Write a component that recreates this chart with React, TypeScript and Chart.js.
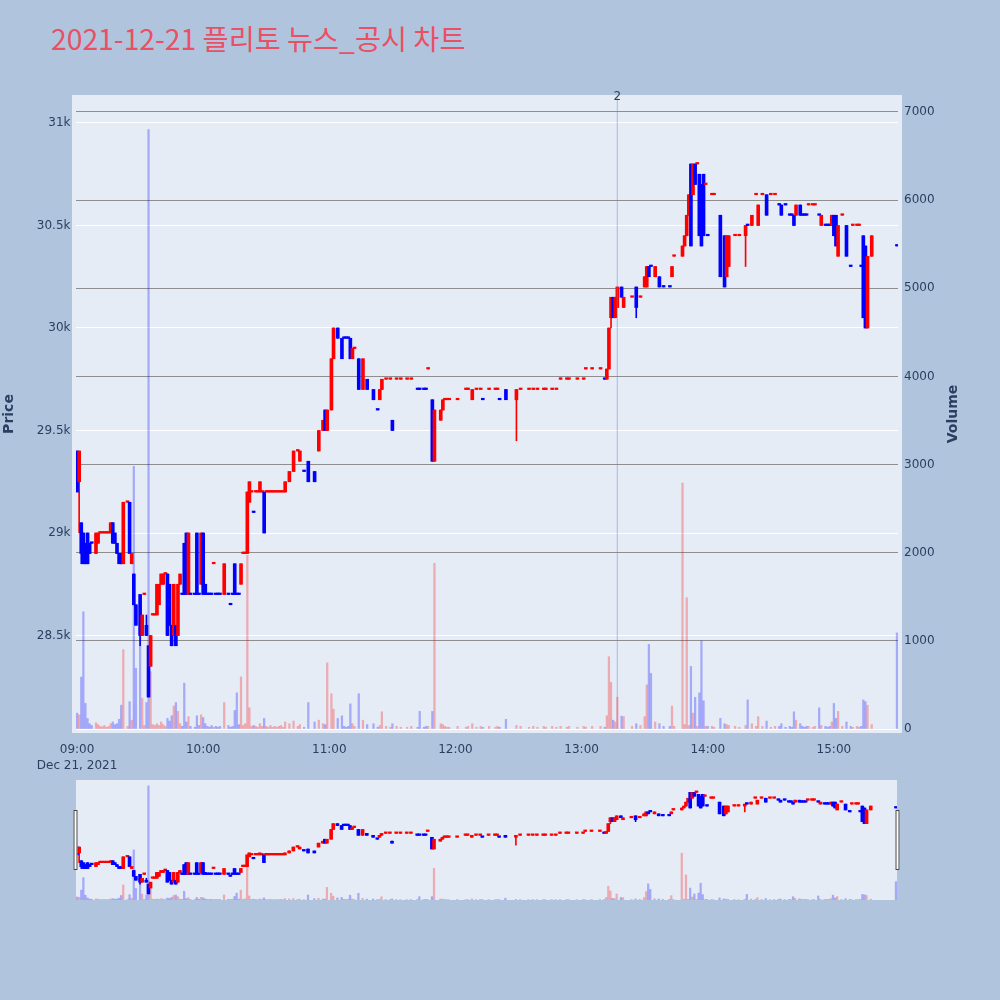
import React, { useEffect, useRef } from "react";
import { Chart, registerables } from "chart.js";

Chart.register(...registerables);

// ---------------- data ----------------
const TITLE = "2021-12-21 플리토 뉴스_공시 차트";
const DATE_LABEL = "Dec 21, 2021";
const PRICE_TITLE = "Price";
const VOLUME_TITLE = "Volume";

// news markers: minutes after 09:00
const newsMinutes = [257];
const newsLabels = ["2"];

const timeTicks = [0, 60, 120, 180, 240, 300, 360];
const priceTicks = [28500, 29000, 29500, 30000, 30500, 31000];
const volumeTicks = [0, 1000, 2000, 3000, 4000, 5000, 6000, 7000];

// rows: [minute after 09:00, open, high, low, close, volume, direction (1 up / -1 down)]
const session0900: number[][] = [
  [0, 29400, 29400, 29200, 29200, 180, -1],
  [1, 29250, 29400, 29000, 29400, 160, 1],
  [2, 29050, 29050, 28850, 28900, 590, -1],
  [3, 29000, 29000, 28850, 28850, 1330, -1],
  [4, 28950, 28950, 28850, 28850, 290, -1],
  [5, 29000, 29000, 28850, 28850, 120, -1],
  [6, 28950, 28950, 28900, 28900, 60, -1],
  [7, 28950, 28950, 28950, 28950, 40, -1],
  [9, 28900, 29000, 28900, 29000, 70, 1],
  [10, 28950, 29000, 28950, 29000, 50, 1],
  [11, 29000, 29000, 29000, 29000, 30, 1],
  [12, 29000, 29000, 29000, 29000, 25, 1],
  [13, 29000, 29000, 29000, 29000, 40, 1],
  [14, 29000, 29000, 29000, 29000, 20, 1],
  [15, 29000, 29000, 29000, 29000, 30, 1],
  [16, 29000, 29050, 29000, 29050, 60, 1],
  [17, 29050, 29050, 28950, 28950, 80, -1],
  [18, 29000, 29000, 28950, 28950, 50, -1],
  [19, 28950, 28950, 28900, 28900, 60, -1],
  [20, 28900, 28900, 28850, 28850, 110, -1],
  [21, 28900, 28900, 28850, 28850, 270, -1],
  [22, 28850, 29150, 28850, 29150, 900, 1],
  [24, 29150, 29150, 29150, 29150, 30, 1],
  [25, 29150, 29150, 28900, 28900, 310, -1],
  [26, 28850, 28900, 28850, 28900, 100, 1],
  [27, 28800, 28800, 28650, 28650, 2980, -1],
  [28, 28650, 28650, 28550, 28550, 690, -1],
  [30, 28700, 28700, 28450, 28500, 1050, -1],
  [31, 28500, 28600, 28500, 28600, 350, 1],
  [32, 28700, 28700, 28700, 28700, 40, 1],
  [33, 28550, 28600, 28500, 28500, 300, -1],
  [34, 28450, 28450, 28200, 28200, 6800, -1],
  [35, 28350, 28500, 28350, 28500, 650, 1],
  [36, 28600, 28600, 28600, 28600, 50, 1],
  [37, 28600, 28600, 28600, 28600, 40, 1],
  [38, 28600, 28750, 28600, 28750, 60, 1],
  [39, 28650, 28750, 28650, 28750, 40, 1],
  [40, 28750, 28800, 28750, 28800, 80, 1],
  [41, 28750, 28800, 28750, 28800, 50, 1],
  [42, 28800, 28800, 28800, 28800, 30, 1],
  [43, 28800, 28800, 28500, 28500, 120, -1],
  [44, 28750, 28750, 28550, 28550, 90, -1],
  [45, 28550, 28550, 28450, 28450, 150, -1],
  [46, 28500, 28750, 28500, 28750, 260, 1],
  [47, 28550, 28550, 28450, 28450, 300, -1],
  [48, 28500, 28750, 28500, 28750, 200, 1],
  [49, 28750, 28800, 28750, 28800, 60, 1],
  [50, 28700, 28700, 28700, 28700, 30, -1],
  [51, 28950, 28950, 28700, 28700, 520, -1],
  [52, 29000, 29000, 28700, 28700, 80, -1],
  [53, 28700, 29000, 28700, 29000, 140, 1],
  [54, 28700, 28700, 28700, 28700, 30, -1],
  [56, 28700, 28700, 28700, 28700, 20, -1],
  [57, 29000, 29000, 28700, 28700, 150, -1],
  [58, 28700, 28700, 28700, 28700, 40, -1],
  [59, 28750, 29000, 28750, 29000, 160, 1],
];

const session1000: number[][] = [
  [60, 29000, 29000, 28700, 28700, 130, -1],
  [61, 28750, 28750, 28700, 28700, 60, -1],
  [62, 28700, 28700, 28700, 28700, 30, -1],
  [63, 28700, 28700, 28700, 28700, 20, -1],
  [64, 28700, 28700, 28700, 28700, 40, -1],
  [65, 28850, 28850, 28850, 28850, 20, 1],
  [66, 28700, 28700, 28700, 28700, 30, -1],
  [67, 28700, 28700, 28700, 28700, 20, -1],
  [68, 28700, 28700, 28700, 28700, 30, -1],
  [70, 28700, 28850, 28700, 28850, 300, 1],
  [72, 28700, 28700, 28700, 28700, 40, -1],
  [73, 28650, 28650, 28650, 28650, 20, -1],
  [74, 28700, 28700, 28700, 28700, 30, -1],
  [75, 28850, 28850, 28700, 28700, 210, -1],
  [76, 28700, 28700, 28700, 28700, 410, -1],
  [77, 28700, 28700, 28700, 28700, 50, -1],
  [78, 28750, 28850, 28750, 28850, 590, 1],
  [79, 28900, 28900, 28900, 28900, 40, 1],
  [80, 28900, 28900, 28900, 28900, 60, 1],
  [81, 28900, 29200, 28900, 29200, 1970, 1],
  [82, 29150, 29250, 29150, 29250, 240, 1],
  [83, 29200, 29200, 29200, 29200, 30, 1],
  [84, 29100, 29100, 29100, 29100, 40, -1],
  [85, 29200, 29200, 29200, 29200, 30, 1],
  [86, 29200, 29200, 29200, 29200, 20, 1],
  [87, 29200, 29250, 29200, 29250, 60, 1],
  [88, 29200, 29200, 29200, 29200, 30, 1],
  [89, 29200, 29200, 29000, 29000, 120, -1],
  [90, 29200, 29200, 29200, 29200, 30, 1],
  [91, 29200, 29200, 29200, 29200, 20, 1],
  [92, 29200, 29200, 29200, 29200, 40, 1],
  [93, 29200, 29200, 29200, 29200, 20, 1],
  [94, 29200, 29200, 29200, 29200, 30, 1],
  [95, 29200, 29200, 29200, 29200, 20, 1],
  [96, 29200, 29200, 29200, 29200, 30, 1],
  [97, 29200, 29200, 29200, 29200, 40, 1],
  [98, 29200, 29200, 29200, 29200, 20, 1],
  [99, 29200, 29250, 29200, 29250, 80, 1],
  [101, 29250, 29300, 29250, 29300, 60, 1],
  [103, 29300, 29400, 29300, 29400, 90, 1],
  [105, 29400, 29400, 29400, 29400, 30, 1],
  [106, 29350, 29400, 29350, 29400, 50, 1],
  [108, 29300, 29300, 29300, 29300, 20, -1],
  [110, 29350, 29350, 29250, 29250, 300, -1],
  [113, 29300, 29300, 29250, 29250, 80, -1],
  [115, 29400, 29500, 29400, 29500, 100, 1],
  [117, 29500, 29550, 29500, 29550, 60, 1],
  [118, 29600, 29600, 29500, 29500, 50, -1],
  [119, 29500, 29600, 29500, 29600, 750, 1],
];

const session1100: number[][] = [
  [121, 29600, 29850, 29600, 29850, 400, 1],
  [122, 29850, 30000, 29850, 30000, 225, 1],
  [124, 30000, 30000, 29950, 29950, 120, -1],
  [126, 29950, 29950, 29850, 29850, 150, -1],
  [127, 29950, 29950, 29950, 29950, 30, -1],
  [128, 29950, 29950, 29950, 29950, 20, -1],
  [129, 29950, 29950, 29950, 29950, 30, -1],
  [130, 29950, 29950, 29850, 29850, 285, -1],
  [131, 29850, 29900, 29850, 29900, 60, 1],
  [132, 29900, 29900, 29900, 29900, 30, 1],
  [134, 29850, 29850, 29700, 29700, 400, -1],
  [136, 29700, 29850, 29700, 29850, 100, 1],
  [138, 29750, 29750, 29700, 29700, 50, -1],
  [141, 29700, 29700, 29650, 29650, 60, -1],
  [143, 29600, 29600, 29600, 29600, 20, -1],
  [144, 29650, 29700, 29650, 29700, 40, 1],
  [145, 29700, 29750, 29700, 29750, 195, 1],
  [147, 29750, 29750, 29750, 29750, 30, 1],
  [149, 29750, 29750, 29750, 29750, 20, 1],
  [150, 29550, 29550, 29500, 29500, 60, -1],
  [152, 29750, 29750, 29750, 29750, 30, 1],
  [154, 29750, 29750, 29750, 29750, 20, 1],
  [157, 29750, 29750, 29750, 29750, 20, 1],
  [159, 29750, 29750, 29750, 29750, 30, 1],
  [162, 29700, 29700, 29700, 29700, 20, -1],
  [163, 29700, 29700, 29700, 29700, 200, -1],
  [165, 29700, 29700, 29700, 29700, 20, -1],
  [166, 29700, 29700, 29700, 29700, 30, -1],
  [167, 29800, 29800, 29800, 29800, 30, 1],
  [169, 29650, 29650, 29350, 29350, 200, -1],
  [170, 29350, 29600, 29350, 29600, 1880, 1],
  [173, 29550, 29600, 29550, 29600, 60, 1],
  [174, 29600, 29650, 29600, 29650, 50, 1],
  [175, 29650, 29650, 29650, 29650, 30, 1],
  [176, 29650, 29650, 29650, 29650, 20, 1],
  [177, 29650, 29650, 29650, 29650, 20, 1],
];

const session1200: number[][] = [
  [181, 29650, 29650, 29650, 29650, 30, 1],
  [185, 29700, 29700, 29700, 29700, 20, 1],
  [186, 29700, 29700, 29700, 29700, 30, 1],
  [188, 29650, 29700, 29650, 29700, 60, 1],
  [190, 29700, 29700, 29700, 29700, 20, 1],
  [192, 29700, 29700, 29700, 29700, 30, 1],
  [193, 29650, 29650, 29650, 29650, 20, -1],
  [196, 29700, 29700, 29700, 29700, 30, 1],
  [199, 29700, 29700, 29700, 29700, 20, 1],
  [200, 29700, 29700, 29700, 29700, 30, 1],
  [201, 29650, 29650, 29650, 29650, 20, -1],
  [204, 29700, 29700, 29650, 29650, 110, -1],
  [209, 29650, 29700, 29450, 29700, 40, 1],
  [211, 29700, 29700, 29700, 29700, 30, 1],
  [215, 29700, 29700, 29700, 29700, 20, 1],
  [217, 29700, 29700, 29700, 29700, 30, 1],
  [219, 29700, 29700, 29700, 29700, 20, 1],
  [222, 29700, 29700, 29700, 29700, 30, 1],
  [223, 29700, 29700, 29700, 29700, 20, 1],
  [226, 29700, 29700, 29700, 29700, 30, 1],
  [228, 29700, 29700, 29700, 29700, 20, 1],
  [230, 29750, 29750, 29750, 29750, 30, 1],
  [233, 29750, 29750, 29750, 29750, 20, 1],
  [234, 29750, 29750, 29750, 29750, 30, 1],
  [238, 29750, 29750, 29750, 29750, 20, 1],
];

const session1300: number[][] = [
  [241, 29750, 29750, 29750, 29750, 30, 1],
  [242, 29800, 29800, 29800, 29800, 20, 1],
  [245, 29800, 29800, 29800, 29800, 30, 1],
  [249, 29800, 29800, 29800, 29800, 30, 1],
  [251, 29750, 29750, 29750, 29750, 20, -1],
  [252, 29750, 29800, 29750, 29800, 150, 1],
  [253, 29800, 30000, 29800, 30000, 820, 1],
  [254, 30050, 30150, 30000, 30150, 530, 1],
  [255, 30150, 30150, 30050, 30050, 100, -1],
  [256, 30050, 30150, 30050, 30150, 80, 1],
  [257, 30100, 30200, 30100, 30200, 360, 1],
  [259, 30200, 30200, 30150, 30150, 145, -1],
  [260, 30100, 30150, 30100, 30150, 140, 1],
  [264, 30150, 30150, 30150, 30150, 30, 1],
  [266, 30200, 30200, 30050, 30100, 60, -1],
  [268, 30150, 30150, 30150, 30150, 40, 1],
  [270, 30200, 30250, 30200, 30250, 140, 1],
  [271, 30200, 30300, 30200, 30300, 500, 1],
  [272, 30300, 30300, 30250, 30250, 960, -1],
  [273, 30300, 30300, 30300, 30300, 630, -1],
  [275, 30250, 30300, 30250, 30300, 80, 1],
  [277, 30250, 30250, 30200, 30200, 60, -1],
  [279, 30200, 30200, 30200, 30200, 30, -1],
  [282, 30200, 30200, 30200, 30200, 30, -1],
  [283, 30250, 30300, 30250, 30300, 260, 1],
  [284, 30350, 30350, 30350, 30350, 30, 1],
  [288, 30350, 30400, 30350, 30400, 2790, 1],
  [289, 30400, 30450, 30400, 30450, 50, 1],
  [290, 30450, 30550, 30450, 30550, 1490, 1],
  [291, 30550, 30650, 30550, 30650, 40, 1],
  [292, 30800, 30800, 30400, 30400, 710, -1],
  [293, 30650, 30800, 30650, 30800, 180, 1],
  [294, 30800, 30800, 30700, 30700, 360, -1],
  [295, 30800, 30800, 30800, 30800, 30, 1],
  [296, 30750, 30750, 30450, 30450, 410, -1],
  [297, 30700, 30700, 30400, 30400, 1000, -1],
  [298, 30750, 30750, 30450, 30450, 320, -1],
  [299, 30700, 30700, 30700, 30700, 30, 1],
];

const session1400: number[][] = [
  [300, 30450, 30450, 30450, 30450, 30, -1],
  [302, 30650, 30650, 30650, 30650, 30, 1],
  [303, 30650, 30650, 30650, 30650, 20, 1],
  [306, 30550, 30550, 30250, 30250, 120, -1],
  [308, 30450, 30450, 30200, 30200, 60, -1],
  [309, 30250, 30450, 30250, 30450, 50, 1],
  [310, 30300, 30450, 30300, 30450, 40, 1],
  [313, 30450, 30450, 30450, 30450, 30, 1],
  [315, 30450, 30450, 30450, 30450, 20, 1],
  [318, 30450, 30500, 30300, 30500, 40, 1],
  [319, 30500, 30500, 30500, 30500, 330, -1],
  [321, 30500, 30550, 30500, 30550, 60, 1],
  [323, 30650, 30650, 30650, 30650, 30, 1],
  [324, 30500, 30600, 30500, 30600, 140, 1],
  [326, 30650, 30650, 30650, 30650, 30, 1],
  [328, 30650, 30650, 30550, 30550, 90, -1],
  [330, 30650, 30650, 30650, 30650, 20, 1],
  [332, 30650, 30650, 30650, 30650, 30, 1],
  [334, 30600, 30600, 30600, 30600, 30, -1],
  [335, 30600, 30600, 30550, 30550, 60, -1],
  [337, 30600, 30600, 30600, 30600, 20, -1],
  [339, 30550, 30550, 30550, 30550, 30, -1],
  [340, 30550, 30550, 30550, 30550, 20, -1],
  [341, 30550, 30550, 30500, 30500, 195, -1],
  [342, 30550, 30600, 30550, 30600, 100, 1],
  [344, 30600, 30600, 30550, 30550, 60, -1],
  [345, 30550, 30550, 30550, 30550, 30, -1],
  [346, 30550, 30550, 30550, 30550, 20, -1],
  [347, 30550, 30550, 30550, 30550, 30, -1],
  [348, 30600, 30600, 30600, 30600, 30, 1],
  [350, 30600, 30600, 30600, 30600, 20, 1],
  [351, 30600, 30600, 30600, 30600, 30, 1],
  [353, 30550, 30550, 30550, 30550, 240, -1],
  [354, 30500, 30550, 30500, 30550, 40, 1],
  [356, 30500, 30500, 30500, 30500, 30, -1],
  [357, 30500, 30500, 30500, 30500, 20, -1],
  [358, 30500, 30500, 30500, 30500, 30, -1],
  [359, 30500, 30550, 30500, 30550, 80, 1],
];

const session1500: number[][] = [
  [360, 30550, 30550, 30450, 30450, 290, -1],
  [361, 30550, 30550, 30400, 30400, 120, -1],
  [362, 30350, 30500, 30350, 30500, 200, 1],
  [364, 30550, 30550, 30550, 30550, 30, 1],
  [366, 30500, 30500, 30350, 30350, 80, -1],
  [368, 30300, 30300, 30300, 30300, 30, -1],
  [369, 30500, 30500, 30500, 30500, 20, 1],
  [371, 30500, 30500, 30500, 30500, 30, 1],
  [372, 30500, 30500, 30500, 30500, 20, 1],
  [373, 30300, 30300, 30300, 30300, 30, -1],
  [374, 30450, 30450, 30050, 30050, 330, -1],
  [375, 30400, 30400, 30000, 30000, 310, -1],
  [376, 30000, 30350, 30000, 30350, 270, 1],
  [378, 30350, 30450, 30350, 30450, 50, 1],
  [390, 30400, 30400, 30400, 30400, 1090, -1],
];

// ---------------- styling ----------------
const candles = [
  ...session0900,
  ...session1000,
  ...session1100,
  ...session1200,
  ...session1300,
  ...session1400,
  ...session1500,
];

const PAGE_BG = "#b0c4de";
const PLOT_BG = "#e5ecf6";
const TEXT = "#2a3f5f";
const FONT = "'DejaVu Sans', Verdana, sans-serif";
const UP = "#ff0000";
const DOWN = "#0000ff";
const UP_VOL = "rgba(255,0,0,0.28)";
const DOWN_VOL = "rgba(0,0,255,0.28)";

const X_MIN = -0.5;
const X_MAX = 390.5;
const PRICE_MIN = 28044;
const PRICE_MAX = 31117;
const VOL_MAX = 7147;

function fmtTime(m: number): string {
  const h = 9 + Math.floor(m / 60);
  const mm = m % 60;
  return `${String(h).padStart(2, "0")}:${String(mm).padStart(2, "0")}`;
}

function buildDatasets(): any[] {
  const isUp = (r: number[]) => r[6] > 0;
  return [
    {
      type: "bar",
      label: "Volume",
      yAxisID: "y2",
      data: candles.map((r) => ({ x: r[0], y: r[5] })),
      backgroundColor: candles.map((r) => (isUp(r) ? UP_VOL : DOWN_VOL)),
      barThickness: 1.6,
      borderWidth: 0,
      grouped: false,
      order: 3,
    },
    {
      type: "bar",
      label: "Wick",
      yAxisID: "y",
      data: candles.map((r) => ({ x: r[0], y: [r[3], r[2]] })),
      backgroundColor: candles.map((r) => (isUp(r) ? UP : DOWN)),
      barThickness: 1,
      minBarLength: 1,
      borderWidth: 0,
      grouped: false,
      order: 2,
    },
    {
      type: "bar",
      label: "Body",
      yAxisID: "y",
      data: candles.map((r) => ({ x: r[0], y: [r[1], r[4]] })),
      backgroundColor: candles.map((r) => (isUp(r) ? UP : DOWN)),
      barThickness: 3,
      minBarLength: 1.5,
      borderWidth: 0,
      grouped: false,
      order: 1,
    },
  ];
}

const mainDecor = {
  id: "mainDecor",
  beforeDraw(chart: any) {
    const { ctx, chartArea: a } = chart;
    ctx.save();
    ctx.fillStyle = PLOT_BG;
    ctx.fillRect(a.left - 4, a.top - 4, a.right - a.left + 8, a.bottom - a.top + 8);
    ctx.restore();
  },
  afterDatasetsDraw(chart: any) {
    const { ctx, chartArea: a } = chart;
    const xs = chart.scales.x;
    ctx.save();
    newsMinutes.forEach((m, i) => {
      const x = xs.getPixelForValue(m);
      ctx.strokeStyle = "rgba(100,130,235,0.42)";
      ctx.lineWidth = 1.2;
      ctx.beginPath();
      ctx.moveTo(x, a.top - 1);
      ctx.lineTo(x, a.bottom);
      ctx.stroke();
      ctx.fillStyle = TEXT;
      ctx.font = `12px ${FONT}`;
      ctx.textAlign = "center";
      ctx.textBaseline = "middle";
      ctx.fillText(newsLabels[i], x, a.top - 2.5);
    });
    ctx.restore();
  },
  afterDraw(chart: any) {
    const { ctx } = chart;
    ctx.save();
    ctx.fillStyle = TEXT;
    ctx.font = `bold 14px ${FONT}`;
    ctx.textAlign = "center";
    ctx.textBaseline = "middle";
    [
      [PRICE_TITLE, 9.5],
      [VOLUME_TITLE, 953],
    ].forEach(([t, x]) => {
      ctx.save();
      ctx.translate(x as number, 414);
      ctx.rotate(-Math.PI / 2);
      ctx.fillText(t as string, 0, 0);
      ctx.restore();
    });
    ctx.restore();
  },
};

const sliderDecor = {
  id: "sliderDecor",
  beforeDraw(chart: any) {
    const { ctx, chartArea: a } = chart;
    ctx.save();
    ctx.fillStyle = PLOT_BG;
    ctx.fillRect(a.left, a.top, a.right - a.left, a.bottom - a.top);
    ctx.restore();
  },
  afterDraw(chart: any) {
    const { ctx, chartArea: a } = chart;
    ctx.save();
    ctx.fillStyle = "#ffffff";
    ctx.strokeStyle = "#444444";
    ctx.lineWidth = 1;
    const hTop = a.top + 30;
    const hH = 60;
    [a.left - 2.5, a.right - 1.5].forEach((x) => {
      ctx.fillRect(x, hTop, 4, hH);
      ctx.strokeRect(x + 0.5, hTop + 0.5, 3, hH - 1);
    });
    ctx.restore();
  },
};

export default function App() {
  const mainRef = useRef<HTMLCanvasElement | null>(null);
  const sliderRef = useRef<HTMLCanvasElement | null>(null);

  useEffect(() => {
    document.body.style.margin = "0";
    const tickFont = { family: FONT, size: 12 };

    const main = new Chart(mainRef.current as HTMLCanvasElement, {
      type: "bar",
      data: { datasets: buildDatasets() },
      options: {
        responsive: false,
        animation: false,
        events: [],
        layout: { padding: { top: 99, left: 0, right: 0, bottom: 0 } },
        plugins: {
          legend: { display: false },
          tooltip: { enabled: false },
          title: { display: false },
        },
        scales: {
          x: {
            type: "linear",
            min: X_MIN,
            max: X_MAX,
            offset: false,
            grid: { display: false, offset: false },
            border: { display: false },
            afterBuildTicks: (s: any) => {
              s.ticks = timeTicks.map((v) => ({ value: v }));
            },
            afterFit: (s: any) => {
              s.height = 51;
            },
            ticks: {
              autoSkip: false,
              maxRotation: 0,
              padding: 4.5,
              color: TEXT,
              font: { ...tickFont, lineHeight: 1.35 },
              callback: (v: any, i: number) =>
                i === 0 ? [fmtTime(Number(v)), DATE_LABEL] : fmtTime(Number(v)),
            },
          },
          y: {
            type: "linear",
            position: "left",
            min: PRICE_MIN,
            max: PRICE_MAX,
            beginAtZero: false,
            grid: { color: "#ffffff", lineWidth: 1, drawTicks: false },
            border: { display: false },
            afterBuildTicks: (s: any) => {
              s.ticks = priceTicks.map((v) => ({ value: v }));
            },
            afterFit: (s: any) => {
              s.width = 76;
            },
            ticks: {
              autoSkip: false,
              padding: 5.5,
              color: TEXT,
              font: tickFont,
              callback: (v: any) => `${Number(v) / 1000}k`,
            },
          },
          y2: {
            type: "linear",
            position: "right",
            min: 0,
            max: VOL_MAX,
            grid: {
              color: (c: any) => (c.tick && c.tick.value === 0 ? "#ffffff" : "#8e8e8e"),
              lineWidth: 1,
              drawTicks: false,
            },
            border: { display: false },
            afterBuildTicks: (s: any) => {
              s.ticks = volumeTicks.map((v) => ({ value: v }));
            },
            afterFit: (s: any) => {
              s.width = 102;
            },
            ticks: {
              autoSkip: false,
              padding: 6,
              color: TEXT,
              font: tickFont,
              callback: (v: any) => String(v),
            },
          },
        },
      } as any,
      plugins: [mainDecor],
    });

    const slider = new Chart(sliderRef.current as HTMLCanvasElement, {
      type: "bar",
      data: { datasets: buildDatasets() },
      options: {
        responsive: false,
        animation: false,
        events: [],
        layout: { padding: { top: 10, left: 76, right: 103, bottom: 10 } },
        plugins: {
          legend: { display: false },
          tooltip: { enabled: false },
          title: { display: false },
        },
        scales: {
          x: { type: "linear", display: false, min: X_MIN, max: X_MAX, offset: false },
          y: { type: "linear", display: false, min: PRICE_MIN, max: PRICE_MAX, beginAtZero: false },
          y2: { type: "linear", display: false, min: 0, max: VOL_MAX },
        },
      } as any,
      plugins: [sliderDecor],
    });

    return () => {
      main.destroy();
      slider.destroy();
    };
  }, []);

  return (
    <div
      style={{
        position: "absolute",
        left: 0,
        top: 0,
        width: 1000,
        height: 1000,
        background: PAGE_BG,
        overflow: "hidden",
      }}
    >
      <div
        style={{
          position: "absolute",
          left: 51,
          top: 23.5,
          fontFamily: "'Noto Sans CJK KR', 'Open Sans', sans-serif",
          fontSize: 28.3,
          lineHeight: "28.3px",
          color: "#eb4f64",
          whiteSpace: "nowrap",
        }}
      >
        {TITLE}
      </div>
      <canvas
        ref={mainRef}
        width={1000}
        height={780}
        style={{ position: "absolute", left: 0, top: 0 }}
      />
      <canvas
        ref={sliderRef}
        width={1000}
        height={140}
        style={{ position: "absolute", left: 0, top: 770 }}
      />
    </div>
  );
}
